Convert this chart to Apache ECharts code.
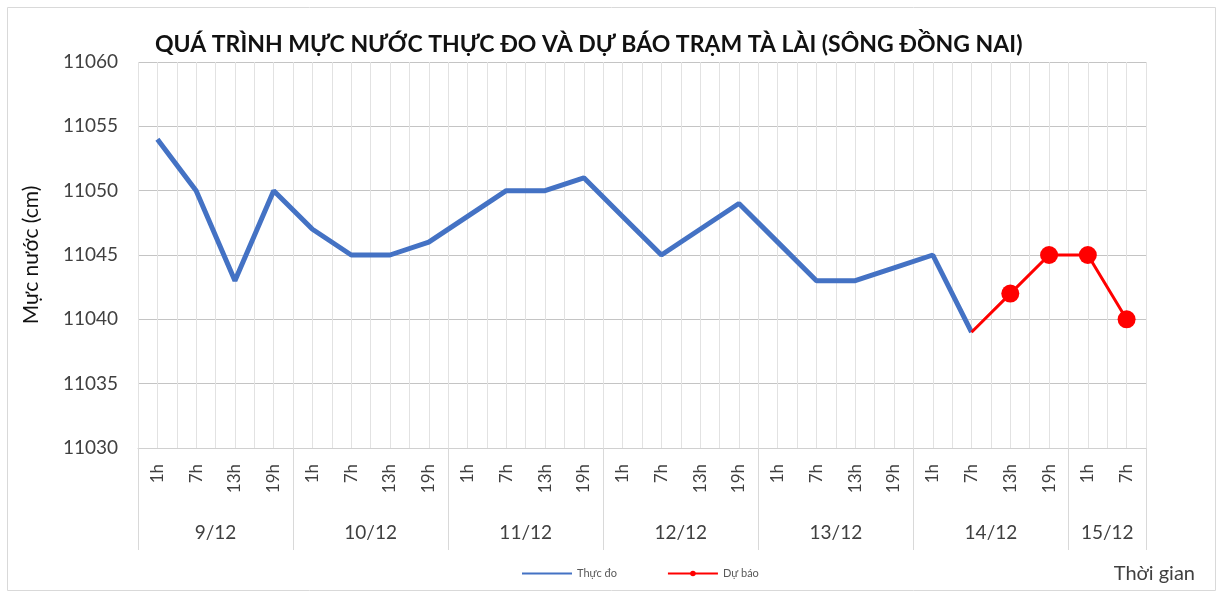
<!DOCTYPE html>
<html>
<head>
  <meta charset="utf-8">
  <script src="https://cdn.jsdelivr.net/npm/echarts@6/dist/echarts.min.js"></script>
  <title>Tram Ta Lai</title>
  <style type="text/css">
    html,
    body {
      margin: 0;
      background-color: #fff;
    }

    #main {
      width: 1219px;
      height: 594px;
    }
  </style>
</head>
<body>
  <div id="main"></div>
  <script type="text/javascript">
    // du lieu doc tu hinh
    var hourLabels = ['1h', '7h', '13h', '19h', '1h', '7h', '13h', '19h', '1h', '7h', '13h', '19h',
      '1h', '7h', '13h', '19h', '1h', '7h', '13h', '19h', '1h', '7h', '13h', '19h', '1h', '7h'];
    var dayLabels = ['9/12', '10/12', '11/12', '12/12', '13/12', '14/12', '15/12'];
    var daySizes = [4, 4, 4, 4, 4, 4, 2];
    var thucDo = [11054, 11050, 11043, 11050, 11047, 11045, 11045, 11046, 11048, 11050, 11050, 11051,
      11048, 11045, 11047, 11049, 11046, 11043, 11043, 11044, 11045, 11039];
    var duBaoStart = 21;
    var duBao = [11039, 11042, 11045, 11045, 11040];
    var yTicks = [11030, 11035, 11040, 11045, 11050, 11055, 11060];

    // truc nhom ngay: diem o moi nua khoang, nhan o giua nhom, vach o bien nhom
    var tickIdx = {};
    var labelIdx = {};
    var pos = 0;
    tickIdx[0] = true;
    for (var i = 0; i < daySizes.length; i++) {
      labelIdx[pos * 2 + daySizes[i]] = dayLabels[i];
      pos += daySizes[i];
      tickIdx[pos] = true;
    }
    var halfPoints = [];
    for (var h = 0; h <= hourLabels.length * 2; h++) {
      halfPoints.push(labelIdx[h] || '');
    }
    // luoi doc moi nua khoang
    var halfCats = [];
    for (var g = 0; g < hourLabels.length * 2; g++) halfCats.push(String(g));

    var duBaoData = [];
    for (var d = 0; d < duBaoStart; d++) duBaoData.push(null);
    for (var e = 0; e < duBao.length; e++) {
      if (e === 0) duBaoData.push({ value: duBao[e], symbol: 'none' });
      else duBaoData.push(duBao[e]);
    }

    var myChart = echarts.init(document.getElementById('main'));
    var txt = '#404040';
    var option = {
      animation: false,
      textStyle: { fontFamily: 'Lato' },
      title: {
        text: 'QUÁ TRÌNH MỰC NƯỚC THỰC ĐO VÀ DỰ BÁO TRẠM TÀ LÀI (SÔNG ĐỒNG NAI)',
        left: 150,
        top: 28,
        textStyle: { fontSize: 23, fontWeight: 'bold', color: '#111', fontFamily: 'Lato' }
      },
      legend: {
        bottom: 10,
        left: 516,
        itemGap: 50,
        itemWidth: 50,
        itemHeight: 7,
        textStyle: { fontSize: 11, color: '#595959' },
        data: [{ name: 'Thực đo', itemStyle: { opacity: 0 } }, 'Dự báo']
      },
      graphic: [{
        type: 'text',
        right: 24,
        bottom: 10,
        style: { text: 'Thời gian', fontSize: 20, fill: txt, fontFamily: 'Lato' }
      }, {
        type: 'rect',
        left: 5,
        top: 5,
        shape: { width: 1208, height: 583 },
        style: { fill: null, stroke: '#d9d9d9', lineWidth: 1 },
        silent: true
      }],
      grid: { left: 138, right: 73, top: 62, bottom: 146 },
      xAxis: [{
        type: 'category',
        position: 'bottom',
        data: hourLabels,
        axisLine: { lineStyle: { color: '#d0d0d0' } },
        axisTick: { show: false },
        axisLabel: { rotate: 90, interval: 0, fontSize: 17, color: txt, margin: 16 },
        splitLine: { show: false }
      }, {
        type: 'category',
        position: 'top',
        data: halfCats,
        axisLine: { show: false },
        axisTick: { show: false },
        axisLabel: { show: false },
        splitLine: { show: true, interval: 0, lineStyle: { color: '#e2e2e2' } }
      }, {
        type: 'category',
        position: 'bottom',
        boundaryGap: false,
        data: halfPoints,
        axisLine: { show: false },
        axisTick: {
          show: true,
          length: 102,
          lineStyle: { color: '#d9d9d9' },
          interval: function (index) { return index % 2 === 0 && tickIdx[index / 2] === true; }
        },
        axisLabel: {
          interval: function (index, value) { return value !== ''; },
          fontSize: 19,
          color: txt,
          margin: 75
        },
        splitLine: { show: false }
      }],
      yAxis: {
        type: 'value',
        min: yTicks[0],
        max: yTicks[yTicks.length - 1],
        interval: 5,
        name: 'Mực nước (cm)',
        nameLocation: 'middle',
        nameRotate: 90,
        nameGap: 96,
        nameTextStyle: { fontSize: 21, color: '#111' },
        axisLine: { show: false },
        axisTick: { show: false },
        axisLabel: { fontSize: 19, color: txt, margin: 20, formatter: function (v) { return String(v); } },
        splitLine: { lineStyle: { color: '#c4c4c4' } }
      },
      series: [{
        name: 'Thực đo',
        type: 'line',
        xAxisIndex: 0,
        data: thucDo,
        showSymbol: false,
        symbol: 'none',
        itemStyle: { color: '#4472c4' },
        lineStyle: { width: 5, color: '#4472c4' }
      }, {
        name: 'Dự báo',
        type: 'line',
        xAxisIndex: 0,
        data: duBaoData,
        symbol: 'circle',
        symbolSize: 18,
        itemStyle: { color: '#ff0000' },
        lineStyle: { width: 3, color: '#ff0000' }
      }]
    };
    myChart.setOption(option);
  </script>
</body>
</html>
